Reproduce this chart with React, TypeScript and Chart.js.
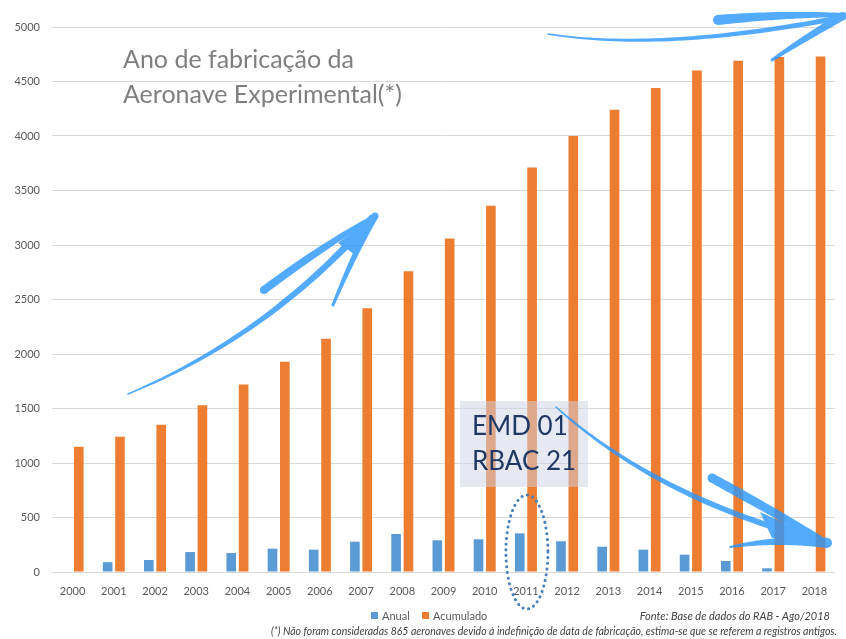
import React, { useEffect, useRef } from "react";
import { Chart, registerables } from "chart.js";

Chart.register(...registerables);

const years = ["2000","2001","2002","2003","2004","2005","2006","2007","2008","2009","2010","2011","2012","2013","2014","2015","2016","2017","2018"];
const anual = [0, 90, 110, 183, 174, 214, 205, 278, 349, 291, 300, 355, 282, 232, 205, 159, 101, 34, 5];
const acumulado = [1150, 1240, 1350, 1530, 1720, 1930, 2140, 2420, 2760, 3060, 3360, 3710, 4000, 4240, 4440, 4600, 4690, 4725, 4730];
const seriesNames = ["Anual", "Acumulado"];
const seriesColors = ["#5b9bd5", "#ed7d31"];
const titleLines = ["Ano de fabricação da", "Aeronave Experimental(*)"];
const boxLines = ["EMD 01", "RBAC 21"];
const sourceText = "Fonte: Base de dados do RAB - Ago/2018";
const noteText = "(*) Não foram consideradas 865 aeronaves devido à indefinição de data de fabricação, estima-se que se referem a registros antigos.";
const highlightYear = "2011";

type P = [number, number];

function taper(ctx: CanvasRenderingContext2D, p0: P, c: P, p2: P, w: [number, number, number]) {
  const N = 40;
  const left: P[] = [];
  const right: P[] = [];
  for (let i = 0; i <= N; i++) {
    const t = i / N;
    const a = (1 - t) * (1 - t), b = 2 * t * (1 - t), d = t * t;
    const x = a * p0[0] + b * c[0] + d * p2[0];
    const y = a * p0[1] + b * c[1] + d * p2[1];
    const dx = 2 * (1 - t) * (c[0] - p0[0]) + 2 * t * (p2[0] - c[0]);
    const dy = 2 * (1 - t) * (c[1] - p0[1]) + 2 * t * (p2[1] - c[1]);
    const len = Math.hypot(dx, dy) || 1;
    const nx = -dy / len, ny = dx / len;
    const ww = a * w[0] + b * w[1] + d * w[2];
    const h = ww / 2;
    left.push([x + nx * h, y + ny * h]);
    right.push([x - nx * h, y - ny * h]);
  }
  ctx.beginPath();
  ctx.moveTo(left[0][0], left[0][1]);
  for (const p of left) ctx.lineTo(p[0], p[1]);
  for (let i = right.length - 1; i >= 0; i--) ctx.lineTo(right[i][0], right[i][1]);
  ctx.closePath();
  ctx.fill();
  ctx.beginPath();
  ctx.arc(p0[0], p0[1], w[0] / 2, 0, Math.PI * 2);
  ctx.fill();
  ctx.beginPath();
  ctx.arc(p2[0], p2[1], w[2] / 2, 0, Math.PI * 2);
  ctx.fill();
}

function tri(ctx: CanvasRenderingContext2D, a: P, b: P, c: P) {
  ctx.beginPath();
  ctx.moveTo(a[0], a[1]);
  ctx.lineTo(b[0], b[1]);
  ctx.lineTo(c[0], c[1]);
  ctx.closePath();
  ctx.fill();
}

const decorPlugin = {
  id: "decor",
  afterDraw(chart: any) {
    const ctx: CanvasRenderingContext2D = chart.ctx;
    const W = chart.width, H = chart.height;
    ctx.save();

    // Title
    ctx.fillStyle = "#7f7f7f";
    ctx.font = "25px Lato";
    ctx.textBaseline = "alphabetic";
    ctx.textAlign = "left";
    ctx.fillText(titleLines[0], 123, 68);
    ctx.fillText(titleLines[1], 123, 103);

    // EMD box
    ctx.fillStyle = "rgba(205,211,229,0.5)";
    ctx.fillRect(460, 401, 128, 86);
    ctx.fillStyle = "#1f3864";
    ctx.font = "26px Lato";
    ctx.fillText(boxLines[0], 472, 435);
    ctx.fillText(boxLines[1], 472, 470);

    // Dotted ellipse around highlight year
    const xs = chart.scales.x;
    const idx = years.indexOf(highlightYear);
    const cx = xs.getPixelForValue(idx);
    ctx.strokeStyle = "#4a7ebb";
    ctx.lineWidth = 3;
    ctx.lineCap = "round";
    ctx.setLineDash([0.1, 5.6]);
    ctx.beginPath();
    ctx.ellipse(cx + 1, 552, 21, 57, 0, 0, Math.PI * 2);
    ctx.stroke();
    ctx.setLineDash([]);

    // Arrows on offscreen canvas
    const off = document.createElement("canvas");
    off.width = W;
    off.height = H;
    const o = off.getContext("2d") as CanvasRenderingContext2D;
    o.fillStyle = "rgb(40,150,255)";
    // arrow 1
    taper(o, [128, 394], [270, 335], [372, 218], [1.5, 6, 7]);
    taper(o, [264, 290], [320, 248], [375, 216], [8, 8, 4]);
    taper(o, [375, 216], [355, 252], [333, 305], [7, 6, 3]);
    tri(o, [375, 215], [338, 243], [354, 254]);
    // arrow 2
    taper(o, [548, 34], [660, 52], [838, 18], [1.5, 4, 5]);
    taper(o, [718, 20], [780, 14], [845, 15], [10, 8, 4]);
    taper(o, [843, 16], [805, 38], [772, 60], [8, 7, 3]);
    // arrow 3
    taper(o, [556, 407], [660, 500], [825, 542], [1.5, 6, 6]);
    taper(o, [712, 478], [770, 510], [827, 543], [9, 10, 6]);
    taper(o, [730, 547], [780, 538], [827, 543], [2, 8, 10]);
    tri(o, [828, 543], [760, 512], [772, 538]);
    ctx.globalAlpha = 0.8;
    ctx.drawImage(off, 0, 0);
    ctx.globalAlpha = 1;

    // Legend
    ctx.font = "11px Lato";
    ctx.textBaseline = "middle";
    ctx.fillStyle = seriesColors[0];
    ctx.fillRect(371, 612, 7, 7);
    ctx.fillStyle = "#595959";
    ctx.fillText(seriesNames[0], 382, 616);
    ctx.fillStyle = seriesColors[1];
    ctx.fillRect(422, 612, 7, 7);
    ctx.fillStyle = "#595959";
    ctx.fillText(seriesNames[1], 433, 616);

    // Source
    ctx.fillStyle = "#404040";
    ctx.font = "italic 11px Lato";
    ctx.textAlign = "right";
    ctx.fillText(sourceText, 830, 616, 204);
    // Note
    ctx.font = "italic 10.5px Lato";
    ctx.fillText(noteText, 837, 632, 657);
    ctx.restore();
  },
};

export default function App() {
  const ref = useRef<HTMLCanvasElement | null>(null);
  useEffect(() => {
    document.body.style.margin = "0";
    const canvas = ref.current;
    if (!canvas) return;
    const chart = new Chart(canvas, {
      type: "bar",
      data: {
        labels: years,
        datasets: [
          { label: seriesNames[0], data: anual, backgroundColor: seriesColors[0], categoryPercentage: 0.6, barPercentage: 0.78 },
          { label: seriesNames[1], data: acumulado, backgroundColor: seriesColors[1], categoryPercentage: 0.6, barPercentage: 0.78 },
        ],
      },
      options: {
        animation: false,
        responsive: true,
        maintainAspectRatio: false,
        layout: { padding: { top: 27, right: 11, bottom: 37, left: 0 } },
        plugins: { legend: { display: false }, tooltip: { enabled: false }, title: { display: false } },
        scales: {
          x: {
            grid: { display: false },
            border: { display: false },
            ticks: { color: "#595959", font: { family: "Lato", size: 11 }, padding: 5, maxRotation: 0, autoSkip: false },
            afterFit: (s: any) => { s.height = 30; },
          },
          y: {
            min: 0,
            max: 5000,
            grid: { color: "#d9d9d9", lineWidth: 1, drawTicks: false },
            border: { display: false },
            ticks: { stepSize: 500, color: "#595959", font: { family: "Lato", size: 11 }, padding: 12, callback: (v: any) => String(v) },
            afterFit: (s: any) => { s.width = 52; },
          },
        },
      },
      plugins: [decorPlugin],
    });
    return () => chart.destroy();
  }, []);
  return (
    <div style={{ position: "absolute", left: 0, top: 0, width: 846, height: 639, background: "#fff" }}>
      <canvas ref={ref} />
    </div>
  );
}
